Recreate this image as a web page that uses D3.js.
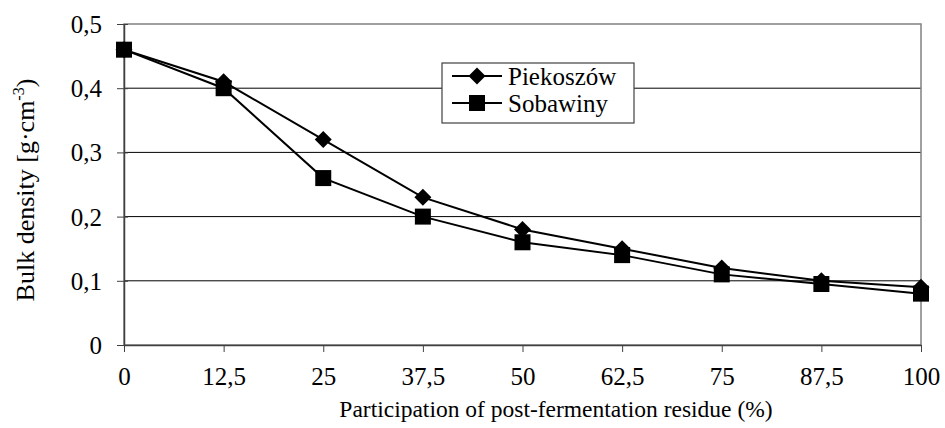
<!DOCTYPE html>
<html><head><meta charset="utf-8">
<script src="https://cdn.jsdelivr.net/npm/d3@7"></script>
<style>body{margin:0;background:#fff}svg{display:block}text{font-family:"Liberation Serif","Times New Roman",serif;fill:#000}</style>
</head><body>
<svg id="c" width="945" height="428"></svg>
<script>
const categories = [0, 12.5, 25, 37.5, 50, 62.5, 75, 87.5, 100];
const xTickLabels = ["0","12,5","25","37,5","50","62,5","75","87,5","100"];
const piekoszow = [0.46, 0.41, 0.32, 0.23, 0.18, 0.15, 0.12, 0.10, 0.09];
const sobawiny  = [0.46, 0.40, 0.26, 0.20, 0.16, 0.14, 0.11, 0.095, 0.08];
const yTicks = [0, 0.1, 0.2, 0.3, 0.4, 0.5];
const seriesNames = ["Piekoszów", "Sobawiny"];

const FF = "Liberation Serif";
const svg = d3.select("#c");
const L = 124, R = 921, T = 24, B = 345;
const x = d3.scaleLinear().domain([0, 100]).range([L, R]);
const y = d3.scaleLinear().domain([0, 0.5]).range([B, T]);
const fmt = d => String(d).replace(".", ",");

// gridlines
svg.append("g").selectAll("line").data(yTicks.filter(d => d > 0 && d < 0.5)).join("line")
  .attr("x1", L).attr("x2", R).attr("y1", d => y(d)).attr("y2", d => y(d))
  .attr("stroke", "#000").attr("stroke-width", 1);
// plot border
svg.append("rect").attr("x", L).attr("y", T).attr("width", R - L).attr("height", B - T)
  .attr("fill", "none").attr("stroke", "#808080").attr("stroke-width", 1.5);

// y axis
const yAxis = svg.append("g").attr("transform", `translate(${L},0)`)
  .call(d3.axisLeft(y).tickValues(yTicks).tickFormat(fmt).tickSize(6).tickSizeOuter(0));
yAxis.attr("font-family", FF);
yAxis.select(".domain").attr("stroke", "#404040").attr("stroke-width", 1.5);
yAxis.selectAll(".tick line").attr("stroke", "#404040").attr("x2", 4).attr("x1", -7);
yAxis.selectAll(".tick text").attr("font-size", 25).attr("font-family", FF).attr("x", -22).attr("dy", "0.34em");

// x axis
const xAxis = svg.append("g").attr("transform", `translate(0,${B})`)
  .call(d3.axisBottom(x).tickValues(categories).tickFormat((d, i) => xTickLabels[i]).tickSize(7).tickSizeOuter(0));
xAxis.attr("font-family", FF);
xAxis.select(".domain").attr("stroke", "#404040").attr("stroke-width", 1.5);
xAxis.selectAll(".tick line").attr("stroke", "#404040");
xAxis.selectAll(".tick text").attr("font-size", 25).attr("font-family", FF).attr("y", 40).attr("dy", 0);

// lines
const line = d3.line().x((d, i) => x(categories[i])).y(d => y(d));
[piekoszow, sobawiny].forEach(s => {
  svg.append("path").datum(s).attr("d", line).attr("fill", "none").attr("stroke", "#000").attr("stroke-width", 2);
});
// markers
const diamond = (cx, cy, r) => `M${cx},${cy - r}L${cx + r},${cy}L${cx},${cy + r}L${cx - r},${cy}Z`;
svg.append("g").selectAll("path").data(piekoszow).join("path")
  .attr("d", (d, i) => diamond(x(categories[i]), y(d), 8.5)).attr("fill", "#000");
svg.append("g").selectAll("rect").data(sobawiny).join("rect")
  .attr("x", (d, i) => x(categories[i]) - 8).attr("y", d => y(d) - 8)
  .attr("width", 16).attr("height", 16).attr("fill", "#000");

// legend
const lg = svg.append("g");
lg.append("rect").attr("x", 442).attr("y", 63).attr("width", 192).attr("height", 60)
  .attr("fill", "#fff").attr("stroke", "#404040").attr("stroke-width", 1.2);
seriesNames.forEach((n, i) => {
  const cy = 76 + i * 27;
  lg.append("line").attr("x1", 452).attr("x2", 502).attr("y1", cy).attr("y2", cy).attr("stroke", "#000").attr("stroke-width", 2);
  if (i === 0) lg.append("path").attr("d", diamond(477, cy, 8.5)).attr("fill", "#000");
  else lg.append("rect").attr("x", 469).attr("y", cy - 8).attr("width", 16).attr("height", 16).attr("fill", "#000");
  lg.append("text").attr("x", 508).attr("y", cy + 9).attr("font-size", 25).attr("font-family", FF).text(n);
});

// axis titles
svg.append("text").attr("x", 556).attr("y", 417).attr("text-anchor", "middle").attr("font-size", 23.5).attr("font-family", FF)
  .text("Participation of post-fermentation residue (%)");
const yt = svg.append("text").attr("transform", "translate(34,190) rotate(-90)").attr("text-anchor", "middle").attr("font-size", 26).attr("font-family", FF);
yt.append("tspan").text("Bulk density [g·cm");
yt.append("tspan").attr("font-size", 16).attr("dy", -10).text("-3");
yt.append("tspan").attr("dy", 10).text(")");
</script>
</body></html>
